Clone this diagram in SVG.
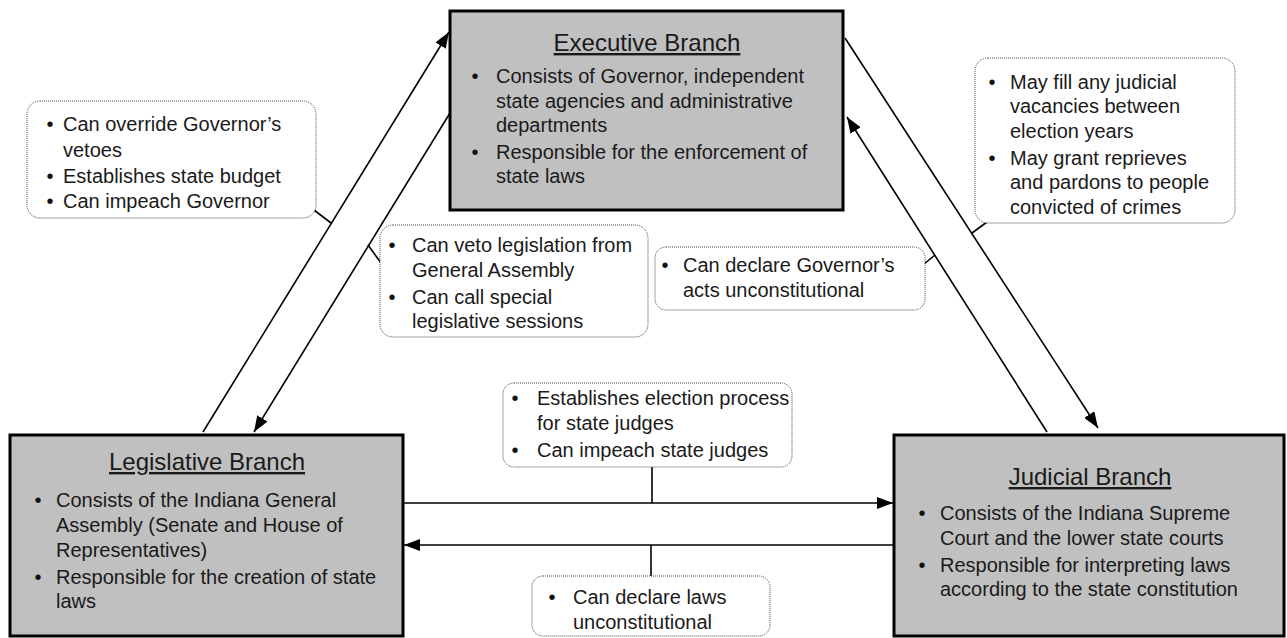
<svg xmlns="http://www.w3.org/2000/svg" width="1287" height="638" viewBox="0 0 1287 638">
<defs>
<marker id="ah" viewBox="0 0 16 12" refX="16" refY="6" markerWidth="16" markerHeight="12" markerUnits="userSpaceOnUse" orient="auto">
<path d="M0,0 L16,6 L0,12 z" fill="#000"/>
</marker>
<style>
.box{fill:#c0c0c0;stroke:#000;stroke-width:3}
.call{fill:#fff;stroke:#444;stroke-width:1;stroke-dasharray:1 1}
.t{font-family:"Liberation Sans",Arial,sans-serif;font-size:20px;fill:#1a1a1a}
.title{font-family:"Liberation Sans",Arial,sans-serif;font-size:24px;fill:#1a1a1a;text-anchor:middle;text-decoration:underline}
.b{font-family:"Liberation Sans",Arial,sans-serif;font-size:20px;fill:#111;text-anchor:middle}
.arr{stroke:#000;stroke-width:1.6;fill:none;marker-end:url(#ah)}
.tick{stroke:#000;stroke-width:1.6;fill:none}
</style>
</defs>
<rect width="1287" height="638" fill="#fff"/>

<g id="connectors">
<line class="arr" x1="203" y1="432" x2="449" y2="32"/>
<line class="arr" x1="450" y1="113" x2="254" y2="432"/>
<line class="arr" x1="845" y1="38" x2="1098" y2="428"/>
<line class="arr" x1="1047" y1="432" x2="847" y2="117"/>
<line class="arr" x1="403" y1="503" x2="893" y2="503"/>
<line class="arr" x1="893" y1="545" x2="404" y2="545"/>
<line class="tick" x1="314" y1="210" x2="331" y2="223"/>
<line class="tick" x1="368" y1="245" x2="381" y2="263"/>
<line class="tick" x1="924" y1="264" x2="935" y2="255"/>
<line class="tick" x1="987" y1="222" x2="972" y2="233"/>
<line class="tick" x1="652" y1="467" x2="652" y2="503"/>
<line class="tick" x1="651" y1="545" x2="651" y2="576"/>
</g>

<g id="executive">
<rect class="box" x="450" y="11" width="393" height="199"/>
<text class="title" x="647" y="51">Executive Branch</text>
<text class="b" x="475" y="83">•</text>
<text class="b" x="475" y="159">•</text>
<text class="t"><tspan x="496" y="83">Consists of Governor, independent</tspan><tspan x="496" y="108">state agencies and administrative</tspan><tspan x="496" y="132">departments</tspan><tspan x="496" y="159">Responsible for the enforcement of</tspan><tspan x="496" y="183">state laws</tspan></text>
</g>

<g id="legislative">
<rect class="box" x="10" y="435" width="393" height="201"/>
<text class="title" x="207" y="470">Legislative Branch</text>
<text class="b" x="38" y="507">•</text>
<text class="b" x="38" y="584">•</text>
<text class="t"><tspan x="56" y="507">Consists of the Indiana General</tspan><tspan x="56" y="532">Assembly (Senate and House of</tspan><tspan x="56" y="557">Representatives)</tspan><tspan x="56" y="584">Responsible for the creation of state</tspan><tspan x="56" y="608">laws</tspan></text>
</g>

<g id="judicial">
<rect class="box" x="894" y="435" width="390" height="201"/>
<text class="title" x="1090" y="485">Judicial Branch</text>
<text class="b" x="922" y="520">•</text>
<text class="b" x="922" y="572">•</text>
<text class="t"><tspan x="940" y="520">Consists of the Indiana Supreme</tspan><tspan x="940" y="545">Court and the lower state courts</tspan><tspan x="940" y="572">Responsible for interpreting laws</tspan><tspan x="940" y="596">according to the state constitution</tspan></text>
</g>

<g id="callout-leg-exec">
<rect class="call" x="27" y="101" width="289" height="117" rx="13"/>
<text class="b" x="50" y="131">•</text>
<text class="b" x="50" y="183">•</text>
<text class="b" x="50" y="208">•</text>
<text class="t"><tspan x="63" y="131">Can override Governor’s</tspan><tspan x="63" y="157">vetoes</tspan><tspan x="63" y="183">Establishes state budget</tspan><tspan x="63" y="208">Can impeach Governor</tspan></text>
</g>

<g id="callout-exec-leg">
<rect class="call" x="380" y="225" width="268" height="112" rx="13"/>
<text class="b" x="392" y="252">•</text>
<text class="b" x="392" y="304">•</text>
<text class="t"><tspan x="412" y="252">Can veto legislation from</tspan><tspan x="412" y="277">General Assembly</tspan><tspan x="412" y="304">Can call special</tspan><tspan x="412" y="328">legislative sessions</tspan></text>
</g>

<g id="callout-jud-exec">
<rect class="call" x="655" y="247" width="270" height="63" rx="11"/>
<text class="b" x="665" y="272">•</text>
<text class="t"><tspan x="683" y="272">Can declare Governor’s</tspan><tspan x="683" y="297">acts unconstitutional</tspan></text>
</g>

<g id="callout-exec-jud">
<rect class="call" x="975" y="58" width="260" height="165" rx="13"/>
<text class="b" x="992" y="89">•</text>
<text class="b" x="992" y="165">•</text>
<text class="t"><tspan x="1010" y="89">May fill any judicial</tspan><tspan x="1010" y="113">vacancies between</tspan><tspan x="1010" y="138">election years</tspan><tspan x="1010" y="165">May grant reprieves</tspan><tspan x="1010" y="189">and pardons to people</tspan><tspan x="1010" y="214">convicted of crimes</tspan></text>
</g>

<g id="callout-leg-jud">
<rect class="call" x="503" y="383" width="289" height="84" rx="11"/>
<text class="b" x="515" y="405">•</text>
<text class="b" x="515" y="457">•</text>
<text class="t"><tspan x="537" y="405">Establishes election process</tspan><tspan x="537" y="430">for state judges</tspan><tspan x="537" y="457">Can impeach state judges</tspan></text>
</g>

<g id="callout-jud-leg">
<rect class="call" x="532" y="576" width="238" height="60" rx="11"/>
<text class="b" x="552" y="604">•</text>
<text class="t"><tspan x="573" y="604">Can declare laws</tspan><tspan x="573" y="629">unconstitutional</tspan></text>
</g>
</svg>
